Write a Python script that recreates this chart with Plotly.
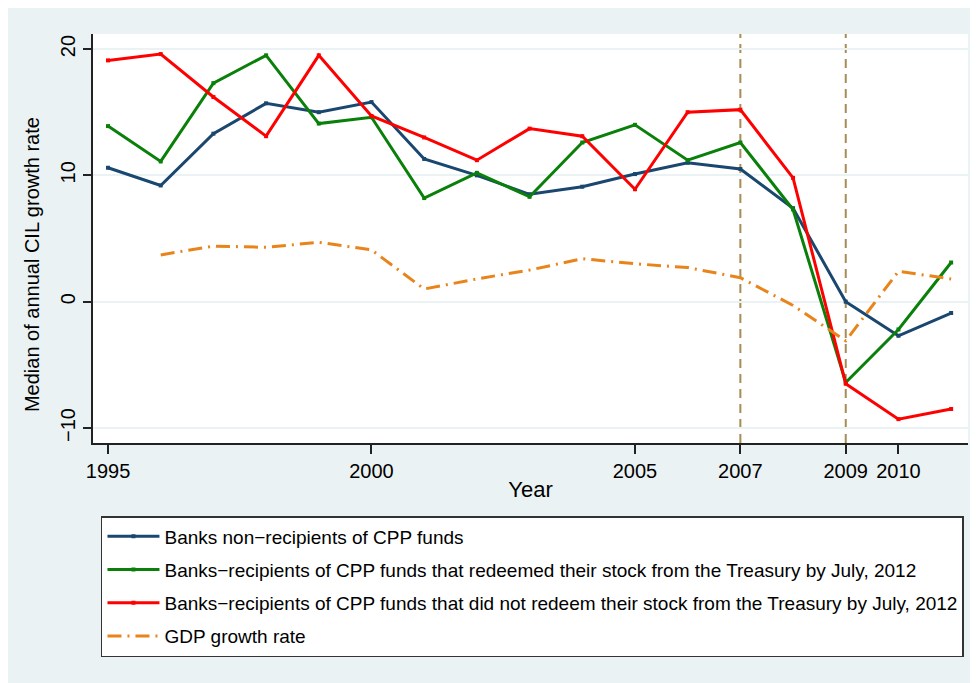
import plotly.graph_objects as go

years = list(range(1995, 2012))
non_recipients = [10.6, 9.2, 13.3, 15.7, 15.0, 15.8, 11.3, 10.0, 8.5, 9.1, 10.1, 11.0, 10.5, 7.4, 0.0, -2.7, -0.9]
redeemed = [13.9, 11.1, 17.3, 19.5, 14.1, 14.6, 8.2, 10.2, 8.3, 12.6, 14.0, 11.2, 12.6, 7.3, -6.4, -2.2, 3.1]
not_redeemed = [19.1, 19.6, 16.2, 13.1, 19.5, 14.7, 13.0, 11.2, 13.7, 13.1, 8.9, 15.0, 15.2, 9.8, -6.5, -9.3, -8.5]
gdp_years = list(range(1996, 2012))
gdp = [3.7, 4.4, 4.3, 4.7, 4.1, 1.0, 1.8, 2.5, 3.4, 3.0, 2.7, 1.9, -0.3, -3.1, 2.4, 1.8]

x_ticks = [1995, 2000, 2005, 2007, 2009, 2010]
y_ticks = [-10, 0, 10, 20]
vlines = [2007, 2009]

names = [
    "Banks non\u2212recipients of CPP funds",
    "Banks\u2212recipients of CPP funds that redeemed their stock from the Treasury by July, 2012",
    "Banks\u2212recipients of CPP funds that did not redeem their stock from the Treasury by July, 2012",
    "GDP growth rate",
]

NAVY = "#1a476f"
GREEN = "#0a800a"
RED = "#ff0000"
ORANGE = "#e8841a"
SAND = "#a88c55"
BG = "#eaf2f3"
FONT = "Liberation Sans, Arial, sans-serif"

fig = go.Figure()
series = [(years, non_recipients, NAVY), (years, redeemed, GREEN), (years, not_redeemed, RED)]
for i, (xs, ys, col) in enumerate(series):
    fig.add_trace(go.Scatter(
        x=xs, y=ys, mode="lines+markers", name=names[i], legendgroup=f"g{i}",
        line=dict(color=col, width=3), marker=dict(color=col, size=4, symbol="square"),
    ))
fig.add_trace(go.Scatter(
    x=gdp_years, y=gdp, mode="lines", name=names[3], legendgroup="g3",
    line=dict(color=ORANGE, width=3, dash="14px,6px,2px,6px"),
))

for v in vlines:
    fig.add_shape(type="line", x0=v, x1=v, xref="x", y0=0, y1=1, yref="paper",
                  line=dict(color=SAND, width=2, dash="9px,6px"), layer="below")

fig.add_annotation(
    text="Median of annual CIL growth rate", textangle=-90,
    xref="paper", yref="paper", x=-0.0697, y=0.435,
    xanchor="center", yanchor="middle", showarrow=False,
    font=dict(family=FONT, size=20, color="black"),
)

fig.update_layout(
    width=970, height=675,
    margin=dict(l=85, r=10, t=26, b=240),
    paper_bgcolor=BG, plot_bgcolor="white",
    font=dict(family=FONT, color="black", size=20),
    showlegend=True,
    legend=dict(
        x=0.0091, y=-0.1785, xanchor="left", yanchor="top",
        bgcolor="white", bordercolor="#333333", borderwidth=1.5,
        font=dict(family=FONT, size=19, color="black"),
        tracegroupgap=5.5, itemwidth=52,
        traceorder="grouped",
    ),
    xaxis=dict(
        range=[1994.715, 2011.32], tickvals=x_ticks, ticktext=[str(t) for t in x_ticks],
        showgrid=False, zeroline=False, showline=True, linecolor="#222222", linewidth=1.5,
        ticks="outside", ticklen=9, tickwidth=1.5, tickcolor="#222222",
        tickfont=dict(size=20), title=dict(text="Year", font=dict(size=22), standoff=1),
    ),
    yaxis=dict(
        range=[-11.19, 21.19], tickvals=y_ticks, ticktext=["\u221210", "0", "10", "20"],
        showgrid=True, gridcolor=BG, gridwidth=2, zeroline=False,
        showline=True, linecolor="#222222", linewidth=1.5,
        ticks="outside", ticklen=8, tickwidth=1.5, tickcolor="#222222",
        tickangle=-90, tickfont=dict(size=20),
    ),
)

fig.write_html("out.html")
